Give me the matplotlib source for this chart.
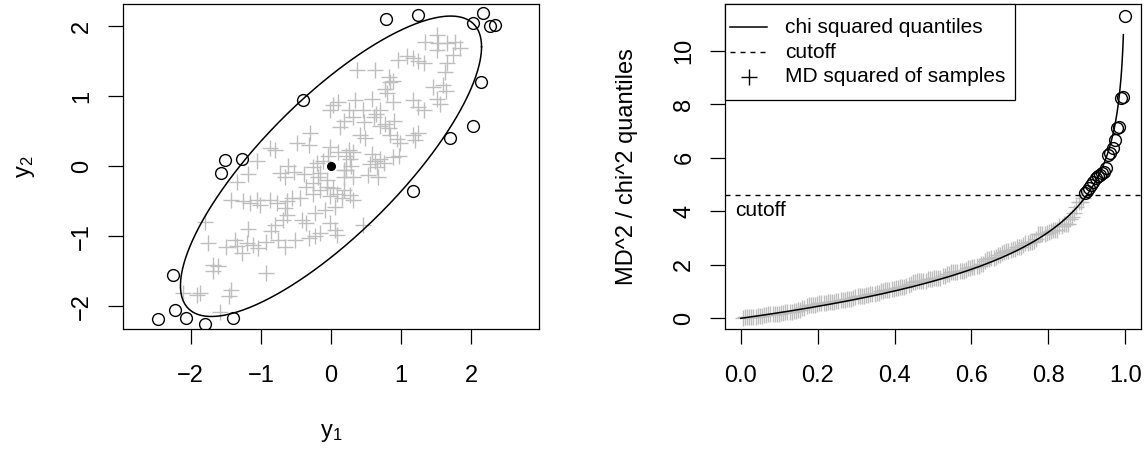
import numpy as np
import matplotlib
matplotlib.use("Agg")
import matplotlib.pyplot as plt
from matplotlib.patches import Rectangle
from matplotlib.lines import Line2D

plt.rcParams["font.family"] = ["Liberation Sans", "DejaVu Sans"]
plt.rcParams["mathtext.fontset"] = "custom"
plt.rcParams["mathtext.rm"] = "Liberation Sans"
plt.rcParams["mathtext.it"] = "Liberation Sans:italic"
plt.rcParams["mathtext.default"] = "rm"

# ---- bivariate sample: points inside the 90% ellipse ----
inlier_x = [1.51, 1.34, 1.53, 1.65, 1.77, 1.84, 1.51, 1.08, 0.96, 1.17, 1.24, 1.33, 1.74, 1.65,
            1.63, 0.37, 0.63, 0.82, 0.84, 0.89, 0.77, 0.80, 1.46, 1.60, 1.64, 1.51, 1.55, 0.03,
            0.10, 0.34, 0.58, 0.88, 1.17, 1.24, 1.33, -0.01, 0.25, 0.45, 0.64, 0.70, 0.18, 0.31,
            0.47, 0.61, 0.70, 0.77, 0.82, 0.90, -0.30, -0.32, 0.13, 0.41, 0.48, 0.84, 0.94, 0.98,
            1.17, 1.24, 1.20, -0.01, 0.25, 0.32, 0.27, -0.04, -0.11, -0.20, -0.25, -0.16, 0.29,
            0.18, 0.58, 0.70, 0.63, 0.56, 0.76, 0.88, 0.97, 0.65, -0.39, -0.18, -0.06, 0.18, 0.32,
            0.53, 0.67,
            -0.87, -0.80, -0.49, -1.06, -1.19, -1.34, -0.61, -0.53, -0.73, -0.66,
            -1.42, -1.25, -1.15, -1.06, -1.01, -0.87, -0.77, -0.63, -0.56, -0.44, -0.35, -0.25,
            -0.16, -0.06, -0.01, 0.08, 0.15, 0.06, 0.18, 0.27, 0.32,
            -0.66, -0.63, -0.68, -0.42, -0.35, -0.23, -0.09, -0.01, 0.06, 0.08, -1.80, -1.18,
            -1.75, -1.49, -1.37, -1.34, -1.20, -1.11, -1.04, -0.92, -0.85, -0.80, -0.75, -0.66,
            -0.51, -0.32, -0.23, -0.16, -1.27, -1.68, -1.61, -1.68, -0.92, -1.43, -1.45, -1.87,
            -1.91, -2.11, -1.58,
            0.10, 0.22, 0.22, -0.25, 0.03, 0.46]
inlier_y = [1.88, 1.78, 1.76, 1.76, 1.78, 1.69, 1.66, 1.57, 1.52, 1.54, 1.51, 1.48, 1.59, 1.48,
            1.35, 1.37, 1.38, 1.28, 1.20, 1.22, 1.11, 1.05, 1.13, 1.16, 1.08, 0.96, 0.89, 0.87,
            0.92, 0.95, 0.96, 0.92, 0.95, 0.84, 0.80, 0.80, 0.80, 0.80, 0.75, 0.80, 0.65, 0.70,
            0.63, 0.70, 0.58, 0.61, 0.54, 0.65, 0.47, 0.30, 0.56, 0.45, 0.41, 0.44, 0.39, 0.33,
            0.44, 0.47, 0.37, 0.28, 0.23, 0.20, 0.11, 0.14, 0.08, 0.05, -0.01, -0.10, 0.00,
            -0.06, 0.18, 0.10, 0.08, 0.03, 0.05, 0.13, 0.14, -0.01, -0.11, -0.16, -0.20, -0.16,
            -0.16, -0.13, -0.16,
            0.26, 0.23, 0.33, 0.08, -0.11, -0.23, 0.00, -0.08, -0.10, -0.15,
            -0.48, -0.50, -0.53, -0.48, -0.55, -0.48, -0.53, -0.50, -0.46, -0.46, -0.29, -0.39,
            -0.34, -0.29, -0.43, -0.39, -0.46, -0.58, -0.34, -0.41, -0.48,
            -0.60, -0.70, -0.77, -0.77, -0.81, -0.67, -0.62, -0.81, -0.91, -0.98, -0.79, -0.90,
            -1.10, -1.15, -1.05, -1.14, -1.10, -1.12, -1.17, -1.08, -0.93, -0.84, -1.05, -1.15,
            -1.05, -1.03, -1.00, -0.96, -1.24, -1.41, -1.43, -1.50, -1.53, -1.77, -1.86, -1.81,
            -1.84, -1.81, -2.08,
            0.21, 0.14, -0.05, -0.24, -0.31, -0.84]

# ---- points outside the ellipse ----
outlier_x = [0.79, 1.24, 2.16, 2.03, 2.27, 2.34, 2.14, 2.02, 1.70, -0.40,
             1.17, -1.51, -1.27, -1.57, -2.25, -2.22, -2.06, -1.80, -1.39, -2.46]
outlier_y = [2.10, 2.16, 2.19, 2.04, 2.00, 2.02, 1.21, 0.57, 0.41, 0.95,
             -0.36, 0.09, 0.11, -0.09, -1.55, -2.05, -2.17, -2.25, -2.17, -2.18]
# squared Mahalanobis distances of the flagged points
outlier_md2 = [11.29, 8.26, 8.24, 7.16, 7.10, 6.66, 6.35, 6.16, 6.10, 5.60,
               5.48, 5.42, 5.36, 5.30, 5.24, 5.11, 4.99, 4.87, 4.74, 4.68]

center = [0.0, 0.0]
cov = [[1.0, 0.795], [0.795, 1.0]]
cutoff_prob = 0.90
curve_max_prob = 0.995

legend_labels = ["chi squared quantiles", "cutoff", "MD squared of samples"]

GRAY = "#BEBEBE"
TICK_FS = 17
LAB_FS = 17
TXT_FS = 15


def chi2_quantile_df2(p):
    # quantile function of the chi-squared distribution with 2 degrees of freedom
    return -2.0 * np.log(1.0 - np.asarray(p, dtype=float))


cutoff = chi2_quantile_df2(cutoff_prob)
mu = np.array(center)
S = np.array(cov)
S_inv = np.linalg.inv(S)

inl = np.column_stack([inlier_x, inlier_y])
d = inl - mu
inlier_md2 = np.einsum("ij,jk,ik->i", d, S_inv, d)

fig = plt.figure(figsize=(11.47, 4.51), dpi=100)
W, H = 1147, 451


def px_axes(left, top, right, bottom):
    return fig.add_axes([left / W, 1 - bottom / H, (right - left) / W, (bottom - top) / H])


def style_axes(ax):
    for s in ax.spines.values():
        s.set_linewidth(0.9)
        s.set_color("black")
    ax.tick_params(direction="out", length=10.8, width=0.9, labelsize=TICK_FS, colors="black")
    ax.tick_params(axis="x", pad=14.8)
    ax.tick_params(axis="y", pad=14.2)
    for lab in ax.get_yticklabels():
        lab.set_rotation(90)
        lab.set_rotation_mode("anchor")
        lab.set_ha("center")
        lab.set_va("baseline")


def style_ylabel(ax, xfrac):
    lab = ax.yaxis.label
    lab.set_rotation(90)
    lab.set_rotation_mode("anchor")
    lab.set_ha("center")
    lab.set_va("baseline")
    ax.yaxis.set_label_coords(xfrac, 0.5)


# ---------------- left panel: scatter with ellipse ----------------
ax1 = px_axes(123, 4.3, 539, 329.3)
t = np.linspace(0, 2 * np.pi, 500)
L = np.linalg.cholesky(S)
ell = mu[:, None] + np.sqrt(cutoff) * (L @ np.vstack([np.cos(t), np.sin(t)]))
ax1.plot(ell[0], ell[1], color="black", lw=1.1, zorder=3)
ax1.plot(inlier_x, inlier_y, linestyle="none", marker="+", ms=11, mew=1.0, color=GRAY, zorder=2)
ax1.plot(outlier_x, outlier_y, linestyle="none", marker="o", ms=8.5, mew=1.0,
         mfc="none", mec="black", zorder=4)
ax1.plot(center[0], center[1], marker="o", ms=5.5, color="black", zorder=5)
ax1.set_xlim(-2.965, 2.965)
ax1.set_ylim(-2.329, 2.314)
ax1.set_xticks([-2, -1, 0, 1, 2])
ax1.set_yticks([-2, -1, 0, 1, 2])
ax1.set_xticklabels(["\u22122", "\u22121", "0", "1", "2"])
ax1.set_yticklabels(["\u22122", "\u22121", "0", "1", "2"])
style_axes(ax1)
ax1.set_xlabel("y$_1$", fontsize=LAB_FS)
ax1.set_ylabel("y$_2$", fontsize=LAB_FS)
xl = ax1.xaxis.label
xl.set_va("baseline")
ax1.xaxis.set_label_coords(0.5, -0.332)
style_ylabel(ax1, -0.2224)

# ---------------- right panel: chi-squared Q-Q plot ----------------
ax2 = px_axes(725, 4.3, 1140.7, 329.3)
all_md2 = np.concatenate([inlier_md2, np.array(outlier_md2)])
is_out = np.concatenate([np.zeros(len(inlier_md2), bool), np.ones(len(outlier_md2), bool)])
order = np.argsort(all_md2)
md2_sorted = all_md2[order]
out_sorted = is_out[order]
n = len(md2_sorted)
probs = np.arange(1, n + 1) / n

p_curve = np.linspace(0, curve_max_prob, 600)
ax2.plot(probs[~out_sorted], md2_sorted[~out_sorted], linestyle="none", marker="+",
         ms=11.5, mew=1.0, color=GRAY, zorder=2)
ax2.plot(p_curve, chi2_quantile_df2(p_curve), color="black", lw=1.1, zorder=3)
ax2.axhline(cutoff, color="black", lw=1.0, dashes=(3.6, 3.6), zorder=3)
ax2.plot(probs[out_sorted], md2_sorted[out_sorted], linestyle="none", marker="o", ms=8.5,
         mew=1.0, mfc="none", mec="black", zorder=4)
ax2.annotate("cutoff", xy=(0, cutoff), xytext=(-4.1, -15.1), textcoords="offset points",
             ha="left", va="baseline", fontsize=TXT_FS)
ax2.set_xlim(-0.0408, 1.04)
ax2.set_ylim(-0.41, 11.73)
ax2.set_xticks([0.0, 0.2, 0.4, 0.6, 0.8, 1.0])
ax2.set_xticklabels(["0.0", "0.2", "0.4", "0.6", "0.8", "1.0"])
ax2.set_yticks([0, 2, 4, 6, 8, 10])
style_axes(ax2)
ax2.set_ylabel("MD^2 / chi^2 quantiles", fontsize=LAB_FS)
style_ylabel(ax2, -0.2225)

# legend box in the top-left corner of the Q-Q panel
tA = ax2.transAxes
ax2.add_patch(Rectangle((0, 0.7055), 0.6976, 1 - 0.7055, transform=tA, facecolor="white",
                        edgecolor="black", lw=0.9, zorder=6, clip_on=False))
ax2.add_line(Line2D([0.012, 0.1003], [0.9292, 0.9292], transform=tA, color="black",
                    lw=1.1, zorder=7))
ax2.add_line(Line2D([0.012, 0.1003], [0.8523, 0.8523], transform=tA, color="black",
                    lw=1.0, dashes=(3.6, 3.6), zorder=7))
ax2.add_line(Line2D([0.0577], [0.7754], transform=tA, color="black", linestyle="none",
                    marker="+", ms=11, mew=1.0, zorder=7))
for lbl, yb in zip(legend_labels, [0.9108, 0.8338, 0.7618]):
    ax2.text(0.1443, yb, lbl, transform=tA, ha="left", va="baseline", fontsize=TXT_FS,
             zorder=7)

fig.savefig("out.png", dpi=100)
